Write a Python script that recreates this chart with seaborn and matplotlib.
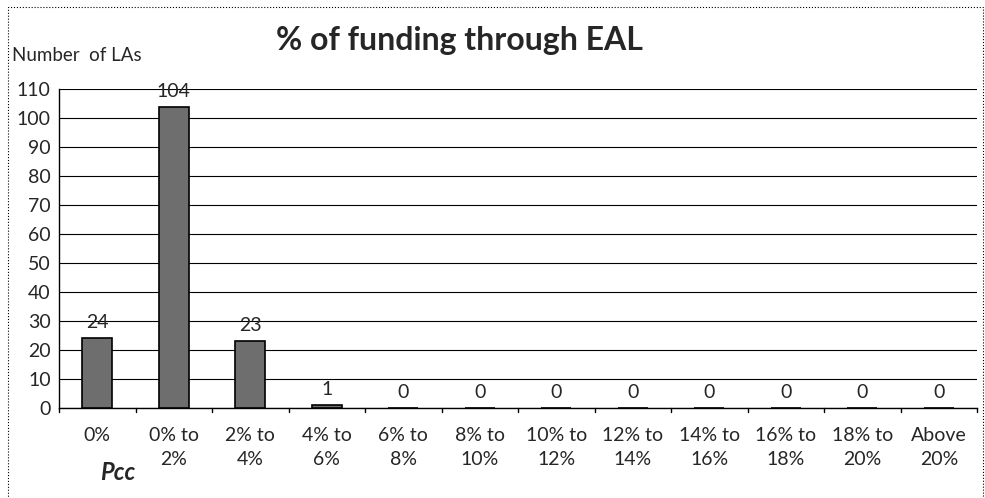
import matplotlib
matplotlib.use("Agg")
import matplotlib.pyplot as plt
import numpy as np
import pandas as pd
import seaborn as sns

# Data
categories = ["0%", "0% to\n2%", "2% to\n4%", "4% to\n6%", "6% to\n8%", "8% to\n10%",
              "10% to\n12%", "12% to\n14%", "14% to\n16%", "16% to\n18%", "18% to\n20%",
              "Above\n20%"]
counts = [24, 104, 23, 1, 0, 0, 0, 0, 0, 0, 0, 0]
y_ticks = list(range(0, 111, 10))

sns.set_style("white")
plt.rcParams['font.family'] = ['Lato', 'DejaVu Sans']

df = pd.DataFrame({"band": categories, "count": counts})

fig = plt.figure(figsize=(9.85, 4.98), dpi=100)
ax = fig.add_axes([0.060, 0.181, 0.932, 0.640])

sns.barplot(data=df, x="band", y="count", color="#6e6e6e", width=0.39,
            edgecolor="black", linewidth=1.2, saturation=1, ax=ax, zorder=3)

ax.set_ylim(0, 110)
ax.set_xlim(-0.5, len(categories) - 0.5)
ax.set_yticks(y_ticks)
ax.set_yticklabels([str(t) for t in y_ticks], fontsize=14)
ax.set_xticks(range(len(categories)))
ax.set_xticklabels(categories, fontsize=14, linespacing=1.5)
ax.tick_params(axis='x', length=0, pad=14)
ax.tick_params(axis='y', length=5, width=1, color='black', direction='out', pad=1)

# tick marks between categories
for b in np.arange(-0.5, len(categories), 1.0):
    ax.plot([b, b], [0, -1.3], color='black', lw=1, clip_on=False, zorder=4)

ax.grid(axis='y', color='black', lw=0.8, zorder=0)
for s in ['top', 'right']:
    ax.spines[s].set_visible(False)
ax.spines['left'].set_color('black')
ax.spines['bottom'].set_color('black')
ax.spines['left'].set_linewidth(1)
ax.spines['bottom'].set_linewidth(1)
ax.set_xlabel("")
ax.set_ylabel("")

for i, v in enumerate(counts):
    ax.annotate(str(v), (i, v), xytext=(0, 5), textcoords='offset points',
                ha='center', va='bottom', fontsize=14, zorder=5)

fig.text(0.466, 0.918, "% of funding through EAL", ha='center', va='center',
         fontsize=23, fontweight='bold')
fig.text(0.012, 0.888, "Number  of LAs", ha='left', va='center', fontsize=13.5)
fig.text(0.102, 0.052, "Pcc", ha='left', va='center', fontsize=17,
         fontstyle='italic', fontweight='bold')

# outer chart border
fig.patches.append(plt.Rectangle((0.008, -0.01), 0.99, 0.995, transform=fig.transFigure,
                                 fill=False, edgecolor='black', lw=0.8, ls=':'))

fig.savefig("out.png", dpi=100)
